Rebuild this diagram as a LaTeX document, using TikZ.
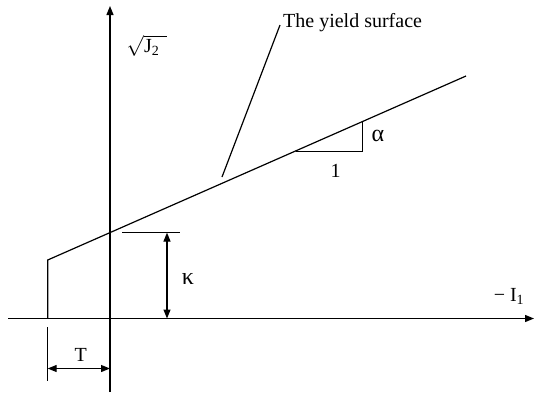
\documentclass[tikz,border=0pt]{standalone}
\usepackage{fontspec}
\setmainfont{Liberation Serif}
\usetikzlibrary{arrows.meta}
\begin{document}
\begin{tikzpicture}[x=1pt,y=-1pt,
  ln/.style={line width=1.2pt},
  arr/.style={ln,-{Triangle[length=9pt,width=7pt]}},
  darr/.style={ln,{Triangle[length=9pt,width=7pt]}-{Triangle[length=9pt,width=7pt]}},
  lbl/.style={inner sep=0pt,font=\fontsize{20}{24}\selectfont},
  glbl/.style={inner sep=0pt,font=\fontsize{24}{28}\selectfont}]
\useasboundingbox (0,0) rectangle (534,392);
% axes
\coordinate (ybot) at (110,392);
\coordinate (ytop) at (110,6);
\coordinate (xleft) at (8,318.5);
\coordinate (xright) at (534,318.5);
\draw[arr] (ybot) -- (ytop);
\draw[arr] (xleft) -- (xright);
% yield surface
\coordinate (A) at (47.7,260);
\coordinate (Abase) at (47.7,318.5);
\coordinate (B) at (466,76);
\coordinate (C) at (110,232.6);
\draw[ln] (Abase) -- (A) -- (B);
% slope triangle
\coordinate (P1) at (295.6,151.2);
\coordinate (P2) at (362.7,151.2);
\coordinate (P3) at (362.7,121.7);
\draw[ln] (P1) -- (P2) -- (P3);
% kappa
\coordinate (K1) at (122,232.6);
\coordinate (K2) at (179.5,232.6);
\coordinate (Ka) at (167,232.6);
\coordinate (Kb) at (167,318.5);
\draw[ln] (K1) -- (K2);
\draw[darr] (Ka) -- (Kb);
% T
\coordinate (T1) at (47.7,327);
\coordinate (T2) at (47.7,381);
\coordinate (Ta) at (47.7,368.5);
\coordinate (Tb) at (110,368.5);
\draw[ln] (T1) -- (T2);
\draw[darr] (Ta) -- (Tb);
% leader
\coordinate (L1) at (222,177);
\coordinate (L2) at (280,25);
\draw[ln] (L1) -- (L2);
% labels
\node[lbl,anchor=west] (ys) at (283,23) {The yield surface};
\node[lbl] (sj) at (147,46) {$\sqrt{\mbox{J\textsubscript{2}}\hspace{8pt}}$};
\node[lbl] (tl) at (80.7,355) {T};
\node[glbl] (kl) at (188,279) {κ};
\node[glbl] (al) at (378,136) {α};
\node[lbl] (one) at (335.5,171) {1};
\node[lbl] (il) at (509,296) {− I\textsubscript{1}};
\end{tikzpicture}
\end{document}
